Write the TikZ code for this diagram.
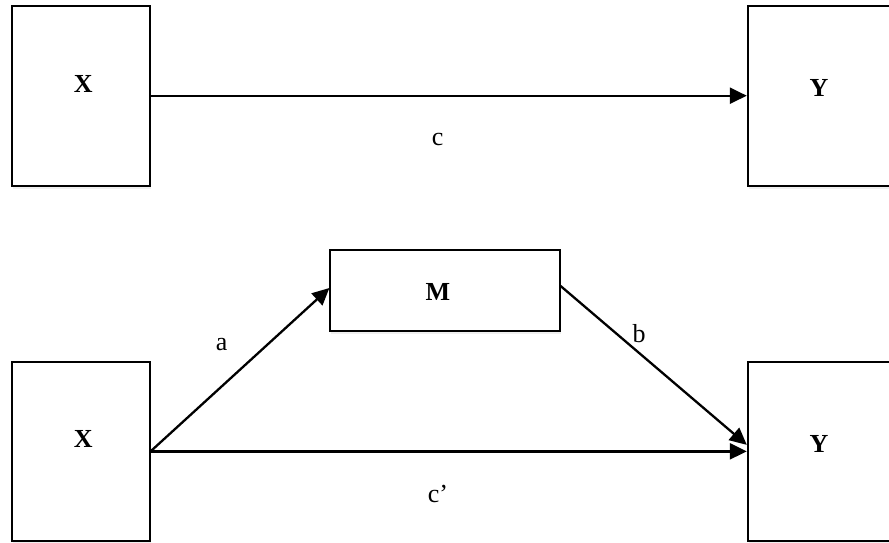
\documentclass[tikz,border=0pt]{standalone}
\usepackage{fontspec}
\setmainfont{Liberation Serif}
\usetikzlibrary{arrows.meta,shadows,calc}
\begin{document}
\begin{tikzpicture}[x=1pt,y=-1pt,
  font=\fontsize{26}{29}\selectfont,
  varbox/.style={draw=black, line width=1.8pt, fill=white, rectangle, inner sep=0pt,
    drop shadow={opacity=0.12, shadow xshift=1pt, shadow yshift=-3pt}},
  path/.style={draw=black, line width=2.3pt, -{Triangle[length=17pt,width=16pt]}},
  lbl/.style={anchor=base, inner sep=0pt},
  vlbl/.style={anchor=base, inner sep=0pt, font=\fontsize{26}{29}\selectfont\bfseries}]
\useasboundingbox (0,0) rectangle (889,543);
\fill[white] (0,0) rectangle (889,543);
% boxes
\node[varbox, minimum width=138pt, minimum height=180pt] (X1) at (80.7,95.7) {};
\node[varbox, minimum width=143.3pt, minimum height=180pt] (Y1) at (819.35,95.7) {};
\node[varbox, minimum width=229.4pt, minimum height=81pt] (M) at (445,290.5) {};
\node[varbox, minimum width=138pt, minimum height=179.3pt] (X2) at (80.7,451.35) {};
\node[varbox, minimum width=143.3pt, minimum height=179.3pt] (Y2) at (819.35,451.35) {};
% box labels
\node[vlbl] (tX1) at (83.3,92.3) {X};
\node[vlbl] (tY1) at (819,96) {Y};
\node[vlbl] (tM) at (438,300.7) {M};
\node[vlbl] (tX2) at (83.3,447) {X};
\node[vlbl] (tY2) at (819,452) {Y};
% anchor points
\coordinate (Ma) at ($(M.west)+(0,-2.5)$);
\coordinate (Mb) at ($(M.east)+(0,-4.5)$);
\coordinate (Yb) at ($(Y2.west)+(0,-6.5)$);
% connectors
\draw[path] (X1.east) -- (Y1.west);
\draw[path] (X2.east) -- (Ma);
\draw[path] (Mb) -- (Yb);
\draw[path] (X2.east) -- (Y2.west);
% path labels
\node[lbl] (lc) at (437.7,145.7) {c};
\node[lbl] (la) at (221.7,350) {a};
\node[lbl] (lb) at (639,342) {b};
\node[lbl] (lcp) at (438,502) {c’};
\end{tikzpicture}
\end{document}
